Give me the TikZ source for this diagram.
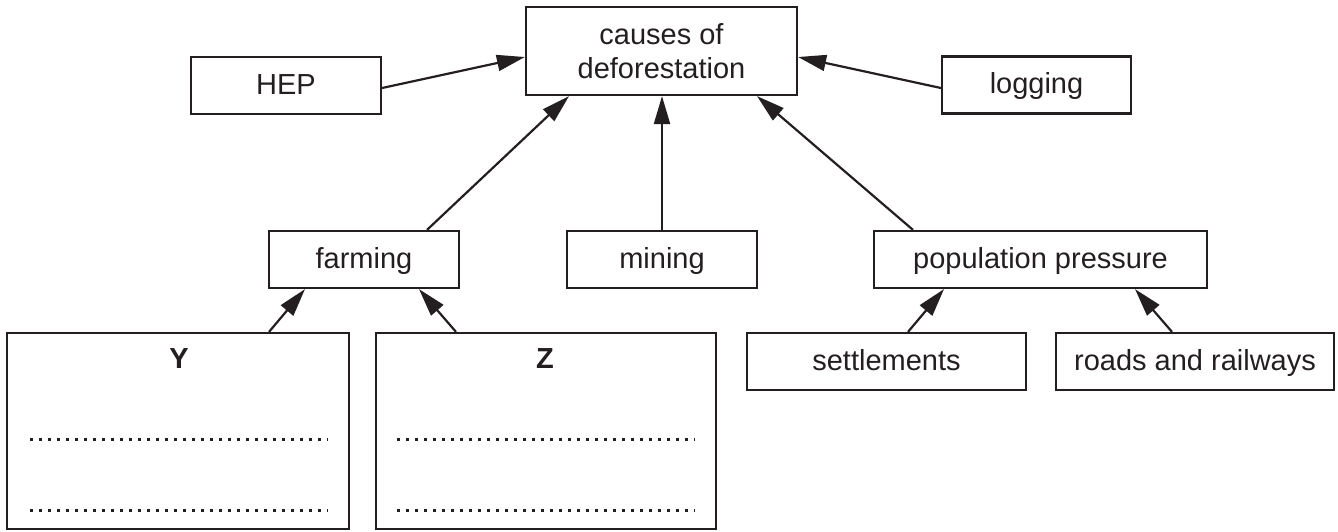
\documentclass[tikz,border=0pt]{standalone}
\usepackage{fontspec}
\setmainfont{Liberation Sans}
\usetikzlibrary{arrows.meta}
\definecolor{ink}{RGB}{35,31,32}
\tikzset{
  box/.style={draw=ink, line width=1.1pt, inner sep=0pt, text=ink,
    font=\fontsize{14.5pt}{17pt}\selectfont, text height=8.5pt, text depth=0pt,
    minimum height=28.5pt},
  link/.style={draw=ink, line width=1.1pt, -{Triangle[length=14pt,width=8pt]}},
  dots/.style={draw=ink, line width=1.5pt, dash pattern=on 1.5pt off 3pt}
}
\begin{document}
\begin{tikzpicture}[x=0.5pt,y=-0.5pt]
\useasboundingbox (0,0) rectangle (1338,531);
\node[box, minimum width=135.5pt, minimum height=44pt, align=center, text height=, text depth=] (causes) at (661.5,51) {causes of\\deforestation};
\node[box, minimum width=95pt] (hep) at (286,85.5) {HEP};
\node[box, minimum width=94.5pt] (logging) at (1036.5,85) {logging};
\node[box, minimum width=95pt] (farming) at (364,259.5) {farming};
\node[box, minimum width=95pt] (mining) at (662,259.5) {mining};
\node[box, minimum width=166.5pt] (pop) at (1040.5,259.5) {population pressure};
\node[box, minimum width=139.5pt] (settle) at (886.5,361.5) {settlements};
\node[box, minimum width=139pt] (roads) at (1195,361.5) {roads and railways};
\node[box, minimum width=171pt, minimum height=98pt] (ybox) at (178,431) {};
\node[box, minimum width=170pt, minimum height=98pt] (zbox) at (546,431) {};
\node[text=ink, font=\fontsize{14.5pt}{17pt}\selectfont\bfseries, inner sep=0pt, text height=8.5pt, text depth=0pt] (ylab) at (179,360) {Y};
\node[text=ink, font=\fontsize{14.5pt}{17pt}\selectfont\bfseries, inner sep=0pt, text height=8.5pt, text depth=0pt] (zlab) at (545,360) {Z};
\draw[dots] (30,439) -- (328,439);
\draw[dots] (30,510) -- (328,510);
\draw[dots] (397,439) -- (695,439);
\draw[dots] (397,510) -- (695,510);
\draw[link] ([yshift=-1.25pt]hep.east) -- ([yshift=-3pt]causes.west);
\draw[link] ([yshift=-1.5pt]logging.west) -- ([yshift=-3pt]causes.east);
\draw[link] ([xshift=31.5pt]farming.north) -- ([xshift=-46.25pt]causes.south);
\draw[link] (mining.north) -- (mining.north |- causes.south);
\draw[link] ([xshift=-63.75pt]pop.north) -- ([xshift=47.75pt]causes.south);
\draw[link] ([xshift=45.5pt]ybox.north) -- ([xshift=-29.5pt]farming.south);
\draw[link] ([xshift=-45pt]zbox.north) -- ([xshift=27.5pt]farming.south);
\draw[link] ([xshift=10.75pt]settle.north) -- ([xshift=-48.25pt]pop.south);
\draw[link] ([xshift=-11.5pt]roads.north) -- ([xshift=47.25pt]pop.south);
\end{tikzpicture}
\end{document}
